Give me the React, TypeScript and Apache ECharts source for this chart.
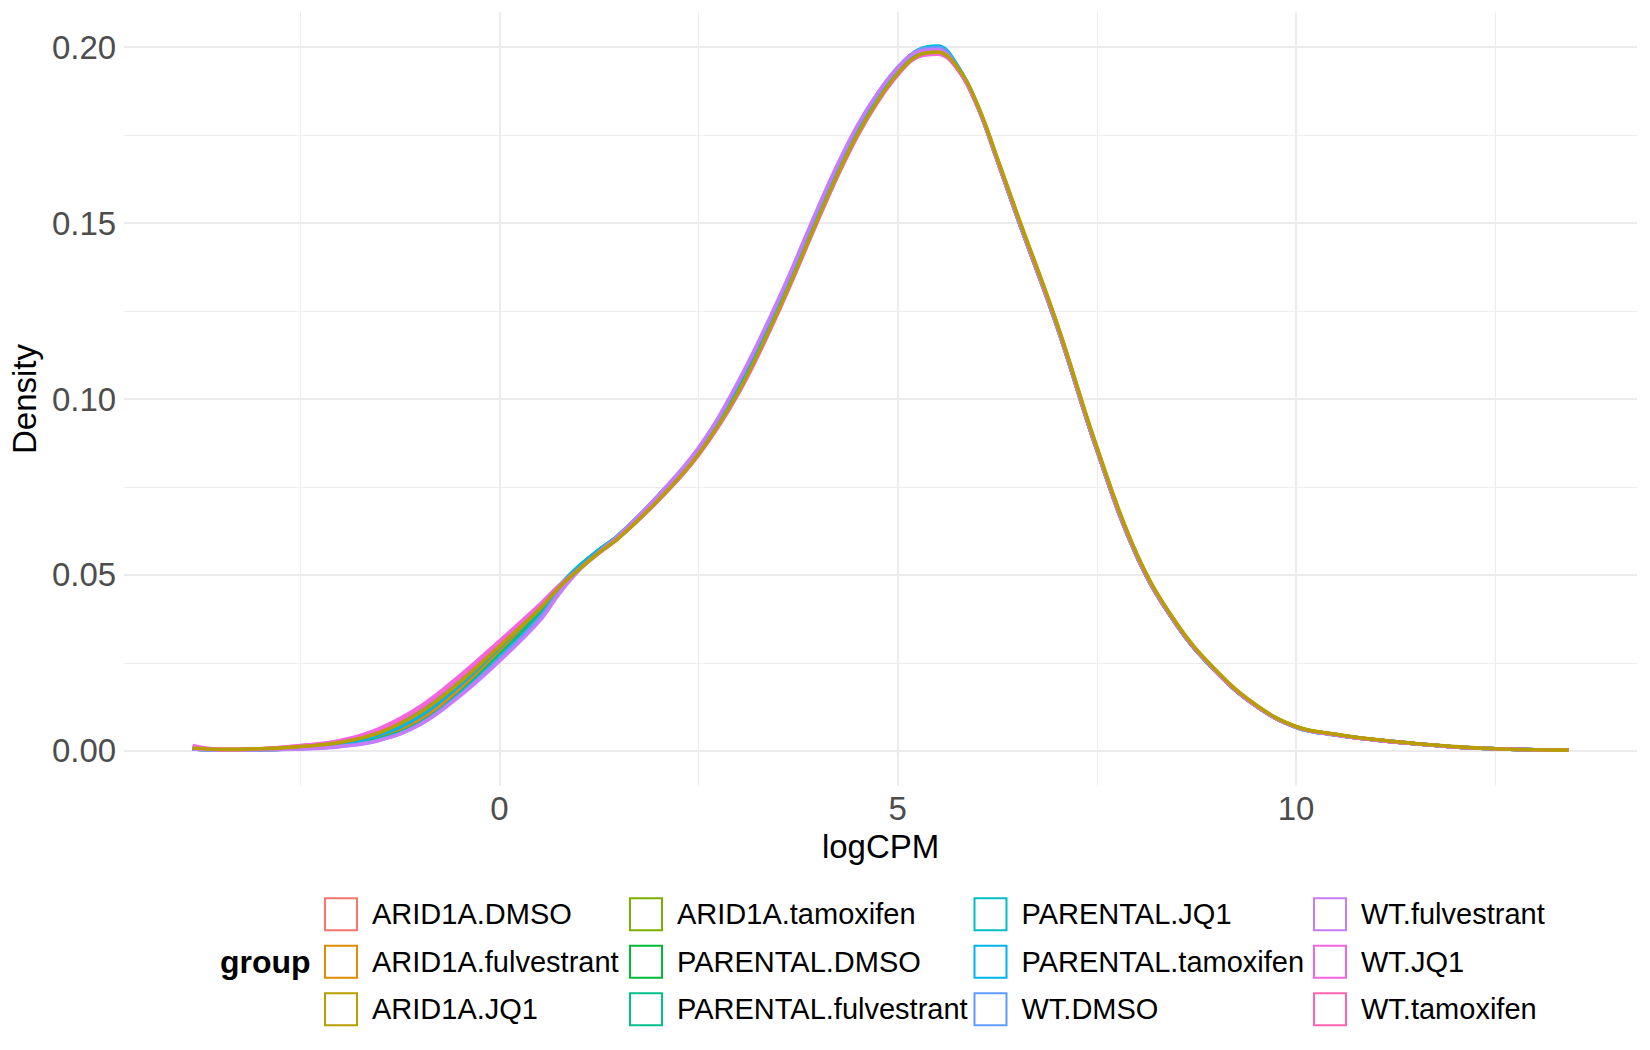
import React, { useEffect, useRef } from "react";
import * as echarts from "echarts";

// logCPM evaluation grid (x values shared by every density curve)
const xGrid = [
  -3.85, -3.5, -3.0, -2.5, -2.0, -1.5, -1.0, -0.5, 0, 0.5, 0.75, 1.0, 1.25, 1.5, 2.0, 2.5, 3.0, 3.5, 4.0,
  4.25, 4.5, 4.75, 5.0, 5.25, 5.5, 5.75, 6.0, 6.25, 6.5, 7.0, 7.5, 8.0, 8.5, 9.0, 9.5, 10, 10.5, 11,
  11.5, 12, 12.5, 13, 13.42,
];

// density values, one array per group
const ARID1A_DMSO = [
  0.0006, 0.0003, 0.0004, 0.0008, 0.0017, 0.0036, 0.0082, 0.0168, 0.0278, 0.0389, 0.046, 0.0521, 0.0568,
  0.0611, 0.0722, 0.0851, 0.1033, 0.1264, 0.1526, 0.1652, 0.1765, 0.1857, 0.1932, 0.1982, 0.1993, 0.1942,
  0.1834, 0.168, 0.152, 0.1209, 0.0858, 0.0556, 0.036, 0.0225, 0.0128, 0.0068, 0.0046, 0.0031,
  0.002, 0.0011, 0.0006, 0.0003, 0.0002,
];
const ARID1A_fulvestrant = [
  0.0007, 0.0003, 0.0005, 0.001, 0.002, 0.0042, 0.0092, 0.018, 0.0288, 0.0396, 0.0463, 0.0521, 0.0566,
  0.0609, 0.0719, 0.0847, 0.1028, 0.1258, 0.152, 0.1646, 0.176, 0.1853, 0.1929, 0.1978, 0.1989, 0.194,
  0.1834, 0.168, 0.1521, 0.121, 0.0859, 0.0557, 0.036, 0.0224, 0.0128, 0.0068, 0.0046, 0.0031,
  0.002, 0.0011, 0.0006, 0.0003, 0.0002,
];
const ARID1A_JQ1 = [
  0.0008, 0.0004, 0.0006, 0.0012, 0.0024, 0.0052, 0.0108, 0.0194, 0.0297, 0.0402, 0.0464, 0.0516, 0.0563,
  0.0605, 0.0714, 0.0843, 0.102, 0.1251, 0.1513, 0.164, 0.1754, 0.1848, 0.1925, 0.1976, 0.1986, 0.1943,
  0.1838, 0.1685, 0.1526, 0.1215, 0.0864, 0.0561, 0.0363, 0.0228, 0.013, 0.0069, 0.0047, 0.0032,
  0.0021, 0.0012, 0.0006, 0.0003, 0.0002,
];
const ARID1A_tamoxifen = [
  0.0005, 0.0003, 0.0004, 0.0008, 0.0016, 0.0034, 0.0079, 0.0164, 0.0273, 0.0386, 0.0459, 0.052, 0.0568,
  0.0612, 0.0723, 0.0852, 0.1034, 0.1266, 0.1528, 0.1654, 0.1766, 0.1859, 0.1934, 0.1984, 0.1995, 0.1943,
  0.1834, 0.1679, 0.1519, 0.1208, 0.0857, 0.0555, 0.0359, 0.0225, 0.0127, 0.0068, 0.0046, 0.0031,
  0.002, 0.0011, 0.0006, 0.0003, 0.0002,
];
const PARENTAL_DMSO = [
  0.0005, 0.0002, 0.0003, 0.0007, 0.0015, 0.0033, 0.0077, 0.0161, 0.027, 0.0388, 0.0461, 0.0524, 0.0571,
  0.0614, 0.0724, 0.0855, 0.1038, 0.127, 0.1532, 0.1658, 0.177, 0.1862, 0.1937, 0.1987, 0.1998, 0.1944,
  0.1834, 0.1679, 0.1518, 0.1207, 0.0856, 0.0554, 0.0358, 0.0224, 0.0127, 0.0067, 0.0045, 0.0031,
  0.002, 0.0011, 0.0006, 0.0003, 0.0002,
];
const PARENTAL_fulvestrant = [
  0.0005, 0.0002, 0.0003, 0.0007, 0.0015, 0.0034, 0.0078, 0.0163, 0.0272, 0.0389, 0.0461, 0.0523, 0.057,
  0.0613, 0.0724, 0.0854, 0.1037, 0.1269, 0.1531, 0.1657, 0.1769, 0.1861, 0.1936, 0.1986, 0.1997, 0.1943,
  0.1833, 0.1679, 0.1518, 0.1207, 0.0856, 0.0555, 0.0359, 0.0225, 0.0127, 0.0068, 0.0046, 0.0031,
  0.002, 0.0011, 0.0006, 0.0003, 0.0002,
];
const PARENTAL_JQ1 = [
  0.0007, 0.0003, 0.0005, 0.0012, 0.0026, 0.0058, 0.0118, 0.0206, 0.031, 0.0412, 0.047, 0.0526, 0.0571,
  0.0613, 0.0726, 0.0858, 0.1043, 0.1275, 0.1537, 0.1662, 0.1774, 0.1866, 0.1941, 0.1991, 0.2003, 0.1947,
  0.1835, 0.1679, 0.1517, 0.1206, 0.0855, 0.0553, 0.0358, 0.0224, 0.0127, 0.0067, 0.0045, 0.0031,
  0.002, 0.0011, 0.0006, 0.0003, 0.0002,
];
const PARENTAL_tamoxifen = [
  0.0006, 0.0003, 0.0004, 0.001, 0.0021, 0.0046, 0.0098, 0.0186, 0.0294, 0.0402, 0.0466, 0.0523, 0.0569,
  0.0611, 0.0725, 0.0858, 0.1044, 0.1276, 0.1538, 0.1663, 0.1775, 0.1866, 0.1941, 0.199, 0.2001, 0.1946,
  0.1835, 0.1679, 0.1517, 0.1206, 0.0855, 0.0554, 0.0358, 0.0224, 0.0127, 0.0067, 0.0045, 0.0031,
  0.002, 0.0011, 0.0006, 0.0003, 0.0002,
];
const WT_DMSO = [
  0.0005, 0.0002, 0.0003, 0.0006, 0.0013, 0.0031, 0.0075, 0.0158, 0.0262, 0.0377, 0.0452, 0.0516, 0.0566,
  0.0613, 0.0727, 0.086, 0.1047, 0.1279, 0.1541, 0.1666, 0.1778, 0.1869, 0.1942, 0.199, 0.1999, 0.1944,
  0.1833, 0.1678, 0.1517, 0.1206, 0.0855, 0.0554, 0.0359, 0.0225, 0.0127, 0.0067, 0.0045, 0.0031,
  0.002, 0.0011, 0.0006, 0.0003, 0.0002,
];
const WT_fulvestrant = [
  0.0005, 0.0002, 0.0003, 0.0005, 0.0012, 0.003, 0.0074, 0.0155, 0.0255, 0.0368, 0.0446, 0.0513, 0.0565,
  0.0612, 0.0727, 0.0861, 0.105, 0.1282, 0.1544, 0.1669, 0.178, 0.187, 0.1941, 0.1987, 0.1993, 0.1939,
  0.1831, 0.1677, 0.1517, 0.1206, 0.0855, 0.0554, 0.0359, 0.0225, 0.0127, 0.0067, 0.0045, 0.0031,
  0.002, 0.0011, 0.0006, 0.0003, 0.0002,
];
const WT_JQ1 = [
  0.0015, 0.0004, 0.0006, 0.0015, 0.0029, 0.0064, 0.0125, 0.0213, 0.0312, 0.0414, 0.047, 0.0516, 0.0562,
  0.0605, 0.0712, 0.084, 0.1015, 0.1246, 0.1508, 0.1635, 0.1749, 0.1844, 0.1921, 0.1972, 0.198, 0.1938,
  0.1834, 0.1682, 0.1523, 0.1212, 0.086, 0.0557, 0.036, 0.0225, 0.0128, 0.0068, 0.0046, 0.0031,
  0.002, 0.0011, 0.0006, 0.0003, 0.0002,
];
const WT_tamoxifen = [
  0.0011, 0.0004, 0.0006, 0.0014, 0.0028, 0.0061, 0.0121, 0.0208, 0.0308, 0.041, 0.0468, 0.0517, 0.0563,
  0.0606, 0.0713, 0.0842, 0.1017, 0.1248, 0.151, 0.1637, 0.1751, 0.1846, 0.1922, 0.1973, 0.1982, 0.1938,
  0.1834, 0.1682, 0.1523, 0.1211, 0.086, 0.0557, 0.036, 0.0225, 0.0128, 0.0068, 0.0046, 0.0031,
  0.002, 0.0011, 0.0006, 0.0003, 0.0002,
];

const groupNames = [
  "ARID1A.DMSO", "ARID1A.fulvestrant", "ARID1A.JQ1", "ARID1A.tamoxifen",
  "PARENTAL.DMSO", "PARENTAL.fulvestrant", "PARENTAL.JQ1", "PARENTAL.tamoxifen",
  "WT.DMSO", "WT.fulvestrant", "WT.JQ1", "WT.tamoxifen",
];
const groupColors = [
  "#F8766D", "#DE8C00", "#B79F00", "#7CAE00", "#00BA38", "#00C08B",
  "#00BFC4", "#00B4F0", "#619CFF", "#C77CFF", "#F564E3", "#FF64B0",
];
const groupValues = [
  ARID1A_DMSO, ARID1A_fulvestrant, ARID1A_JQ1, ARID1A_tamoxifen,
  PARENTAL_DMSO, PARENTAL_fulvestrant, PARENTAL_JQ1, PARENTAL_tamoxifen,
  WT_DMSO, WT_fulvestrant, WT_JQ1, WT_tamoxifen,
];
// drawing order (last is on top)
const drawOrder = [0, 1, 3, 4, 5, 6, 7, 8, 9, 11, 10, 2];

const xMajorTicks = [0, 5, 10];
const xMinorGrid = [-2.5, 2.5, 7.5, 12.5];
const yMajorTicks = [0, 0.05, 0.1, 0.15, 0.2];
const yMinorGrid = [0.025, 0.075, 0.125, 0.175];
const X_MIN = -4.71;
const X_MAX = 14.28;
const Y_MIN = -0.01;
const Y_MAX = 0.21;

const FONT = "'Liberation Sans', Arial, Helvetica, sans-serif";

export default function App() {
  const ref = useRef<HTMLDivElement>(null);

  useEffect(() => {
    if (!ref.current) return;
    const chart = echarts.init(ref.current, null, { renderer: "svg" });

    const majorStyle = { color: "#ebebeb", width: 1.8, type: "solid" };
    const minorStyle = { color: "#ebebeb", width: 0.9, type: "solid" };
    const gridLines: any[] = [];
    xMinorGrid.forEach((x) =>
      gridLines.push([{ coord: [x, Y_MIN], lineStyle: minorStyle }, { coord: [x, Y_MAX] }])
    );
    yMinorGrid.forEach((y) =>
      gridLines.push([{ coord: [X_MIN, y], lineStyle: minorStyle }, { coord: [X_MAX, y] }])
    );
    xMajorTicks.forEach((x) =>
      gridLines.push([{ coord: [x, Y_MIN], lineStyle: majorStyle }, { coord: [x, Y_MAX] }])
    );
    yMajorTicks.forEach((y) =>
      gridLines.push([{ coord: [X_MIN, y], lineStyle: majorStyle }, { coord: [X_MAX, y] }])
    );

    const series: any[] = [
      {
        type: "line",
        name: "__grid",
        data: [[0, 0]],
        symbol: "none",
        showSymbol: false,
        lineStyle: { width: 0, opacity: 0 },
        silent: true,
        z: 1,
        markLine: {
          silent: true,
          z: 1,
          symbol: ["none", "none"],
          label: { show: false },
          emphasis: { disabled: true },
          animation: false,
          lineStyle: { type: "solid" },
          data: gridLines,
        },
      },
    ];
    drawOrder.forEach((gi) => {
      series.push({
        type: "line",
        name: groupNames[gi],
        data: xGrid.map((x, i) => [x, groupValues[gi][i]]),
        smooth: 0.4,
        symbol: "none",
        showSymbol: false,
        silent: true,
        z: 2,
        lineStyle: { width: 3.6, color: groupColors[gi] },
        itemStyle: { color: groupColors[gi] },
        emphasis: { disabled: true },
      });
    });

    const legendCols = [
      [0, 1, 2],
      [3, 4, 5],
      [6, 7, 8],
      [9, 10, 11],
    ];
    const legendLefts = [324, 629, 973.5, 1313];
    const legends = legendCols.map((col, ci) => ({
      orient: "vertical",
      left: legendLefts[ci],
      top: 897.3,
      padding: 0,
      itemWidth: 32,
      itemHeight: 32,
      itemGap: 13.5,
      selectedMode: false,
      textStyle: { fontSize: 29, color: "#000000", fontFamily: FONT, padding: [0, 0, 0, 10] },
      data: col.map((gi) => ({
        name: groupNames[gi],
        icon: "rect",
        itemStyle: { color: "#ffffff", borderColor: groupColors[gi], borderWidth: 2 },
      })),
    }));

    chart.setOption({
      animation: false,
      backgroundColor: "#ffffff",
      textStyle: { fontFamily: FONT },
      title: {
        text: "group",
        left: 220,
        top: 944,
        padding: 0,
        textStyle: { fontSize: 32, fontWeight: "bold", color: "#000000", fontFamily: FONT, lineHeight: 36 },
      },
      legend: legends,
      grid: { left: 121, top: 12, width: 1516, height: 774, containLabel: false },
      xAxis: {
        type: "value",
        min: X_MIN,
        max: X_MAX,
        name: "logCPM",
        nameLocation: "middle",
        nameGap: 37,
        nameTextStyle: { fontSize: 33, color: "#000000", fontFamily: FONT },
        axisLine: { show: false },
        axisTick: { show: true, length: 6, customValues: xMajorTicks, lineStyle: { color: "#d2d2d2", width: 1.8 } },
        axisLabel: {
          customValues: xMajorTicks,
          fontSize: 33,
          color: "#4d4d4d",
          margin: 6,
          fontFamily: FONT,
          formatter: (v: number) => String(v),
        },
        splitLine: { show: false },
        minorTick: { show: false },
        minorSplitLine: { show: false },
      },
      yAxis: {
        type: "value",
        min: Y_MIN,
        max: Y_MAX,
        name: "Density",
        nameLocation: "middle",
        nameGap: 80,
        nameRotate: 90,
        nameTextStyle: { fontSize: 33, color: "#000000", fontFamily: FONT },
        axisLine: { show: false },
        axisTick: { show: true, length: 6, customValues: yMajorTicks, lineStyle: { color: "#d2d2d2", width: 1.8 } },
        axisLabel: {
          customValues: yMajorTicks,
          fontSize: 33,
          color: "#4d4d4d",
          margin: 8,
          fontFamily: FONT,
          formatter: (v: number) => v.toFixed(2),
        },
        splitLine: { show: false },
        minorTick: { show: false },
        minorSplitLine: { show: false },
      },
      series,
    });

    return () => {
      chart.dispose();
    };
  }, []);

  return (
    <div
      ref={ref}
      style={{ position: "absolute", left: 0, top: 0, width: 1650, height: 1050, background: "#ffffff" }}
    />
  );
}
